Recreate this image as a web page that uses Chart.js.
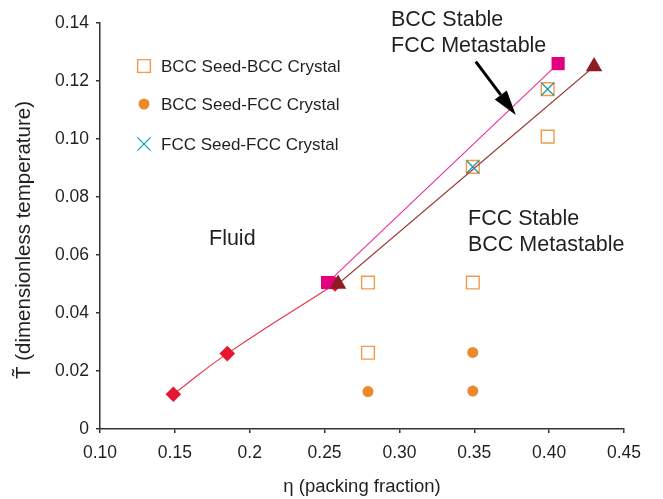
<!DOCTYPE html>
<html lang="en">
<head>
<meta charset="UTF-8" />
<title>Phase diagram</title>
<script src="https://cdn.jsdelivr.net/npm/chart.js"></script>
<style>
  html, body { margin: 0; padding: 0; background: #fff; }
  #chart { display: block; }
</style>
</head>
<body>
<canvas id="chart" width="663" height="499"></canvas>
<script>
  // tick values and labels
  var xTickVals = [0.10, 0.15, 0.20, 0.25, 0.30, 0.35, 0.40, 0.45];
  var xTickLabels = ["0.10", "0.15", "0.2", "0.25", "0.30", "0.35", "0.40", "0.45"];
  var yTickVals = [0, 0.02, 0.04, 0.06, 0.08, 0.10, 0.12, 0.14];
  var yTickLabels = ["0", "0.02", "0.04", "0.06", "0.08", "0.10", "0.12", "0.14"];

  // fluid boundary (red diamonds)
  var fluidEta = [0.149, 0.185, 0.257];
  var fluidT = [0.012, 0.026, 0.050];

  // BCC melting line (magenta squares)
  var bccLineEta = [0.252, 0.406];
  var bccLineT = [0.0505, 0.126];

  // FCC melting line (dark red triangles)
  var fccLineEta = [0.259, 0.430];
  var fccLineT = [0.050, 0.125];

  // simulations
  var bccBccEta = [0.279, 0.279, 0.349, 0.349, 0.399, 0.399];
  var bccBccT = [0.0505, 0.0263, 0.0505, 0.0904, 0.1008, 0.1172];
  var bccFccEta = [0.279, 0.349, 0.349];
  var bccFccT = [0.0129, 0.0131, 0.0264];
  var fccFccEta = [0.349, 0.399];
  var fccFccT = [0.0904, 0.1172];

  var legendLabels = ["BCC Seed-BCC Crystal", "BCC Seed-FCC Crystal", "FCC Seed-FCC Crystal"];

  var FONT = "'Liberation Sans', Arial, Helvetica, sans-serif";
  var TXT = "#231f20";

  function pts(xs, ys) {
    var out = [];
    for (var i = 0; i < xs.length; i++) out.push({ x: xs[i], y: ys[i] });
    return out;
  }

  var cX = "#1f9aa3", cOpen = "#f29a4e", cDot = "#ea8a2c";
  var cMag = "#e2007f", cTri = "#8a1c22", cRed = "#e3172f";

  var styles = [
    { pointStyle: "crossRot", pointRadius: 9, borderColor: cX, backgroundColor: cX, pointBorderWidth: 1.3 },
    { pointStyle: "circle", pointRadius: 5.5, borderColor: cDot, backgroundColor: cDot, pointBorderWidth: 0 },
    { pointStyle: "rect", pointRadius: 9, borderColor: cOpen, backgroundColor: "rgba(0,0,0,0)", pointBorderWidth: 1.4 }
  ];

  // annotations, placed in data units
  var arrowFrom = { x: 0.351, y: 0.1267 };
  var arrowTo = { x: 0.3777, y: 0.1083 };

  var overlay = {
    id: "overlay",
    afterDraw: function (chart) {
      var ctx = chart.ctx;
      var xs = chart.scales.x, ys = chart.scales.y;
      ctx.save();

      // arrow
      var x1 = xs.getPixelForValue(arrowFrom.x), y1 = ys.getPixelForValue(arrowFrom.y);
      var x2 = xs.getPixelForValue(arrowTo.x), y2 = ys.getPixelForValue(arrowTo.y);
      var ang = Math.atan2(y2 - y1, x2 - x1);
      var hl = 25, hw = 7.5;
      var bx = x2 - hl * Math.cos(ang), by = y2 - hl * Math.sin(ang);
      ctx.strokeStyle = "#000";
      ctx.fillStyle = "#000";
      ctx.lineWidth = 3;
      ctx.beginPath();
      ctx.moveTo(x1, y1);
      ctx.lineTo(bx, by);
      ctx.stroke();
      ctx.beginPath();
      ctx.moveTo(x2, y2);
      ctx.lineTo(bx + hw * Math.sin(ang), by - hw * Math.cos(ang));
      ctx.lineTo(bx - hw * Math.sin(ang), by + hw * Math.cos(ang));
      ctx.closePath();
      ctx.fill();

      // region labels
      ctx.fillStyle = TXT;
      ctx.textAlign = "left";
      ctx.textBaseline = "alphabetic";
      ctx.font = "21.5px " + FONT;
      ctx.fillText("BCC Stable", 391, 26);
      ctx.fillText("FCC Metastable", 391, 52);
      ctx.fillText("FCC Stable", 468, 225);
      ctx.fillText("BCC Metastable", 468, 251);
      ctx.fillText("Fluid", 209, 245);

      // legend
      var rows = [66, 104, 144];
      var order = [2, 1, 0];
      ctx.font = "17px " + FONT;
      ctx.textBaseline = "middle";
      for (var i = 0; i < 3; i++) {
        var s = styles[order[i]];
        ctx.strokeStyle = s.borderColor;
        ctx.fillStyle = s.backgroundColor;
        ctx.lineWidth = s.pointBorderWidth;
        Chart.helpers.drawPoint(ctx, { pointStyle: s.pointStyle, radius: s.pointRadius, borderWidth: s.pointBorderWidth, rotation: 0 }, 144, rows[i]);
        ctx.fillStyle = TXT;
        ctx.fillText(legendLabels[i], 161, rows[i] + 1);
      }

      // axis titles
      ctx.font = "18.5px " + FONT;
      ctx.textAlign = "center";
      ctx.textBaseline = "middle";
      ctx.fillText("\u03B7 (packing fraction)", (chart.chartArea.left + chart.chartArea.right) / 2, 487);
      ctx.font = "20.5px " + FONT;
      ctx.translate(24, 240);
      ctx.rotate(-Math.PI / 2);
      ctx.fillText("T\u0303 (dimensionless temperature)", 0, 0);
      ctx.restore();
    }
  };

  new Chart(document.getElementById("chart"), {
    type: "scatter",
    data: {
      datasets: [
        Object.assign({ label: legendLabels[2], data: pts(fccFccEta, fccFccT) }, styles[0]),
        {
          label: "FCC line", data: pts(fccLineEta, fccLineT), showLine: true,
          borderColor: "#9b3b36", borderWidth: 1.1, backgroundColor: cTri,
          pointStyle: "triangle", pointRadius: 9.5, pointBorderWidth: 0, pointBackgroundColor: cTri
        },
        {
          label: "BCC line", data: pts(bccLineEta, bccLineT), showLine: true,
          borderColor: "#ee2a9a", borderWidth: 1.1, backgroundColor: cMag,
          pointStyle: "rect", pointRadius: 9.3, pointBorderWidth: 0, pointBackgroundColor: cMag
        },
        {
          label: "Fluid", data: pts(fluidEta, fluidT), showLine: true, tension: 0.5,
          borderColor: "#e8324a", borderWidth: 1.1, backgroundColor: cRed,
          pointStyle: "rectRot", pointRadius: 7.8, pointBorderWidth: 0, pointBackgroundColor: cRed
        },
        Object.assign({ label: legendLabels[0], data: pts(bccBccEta, bccBccT) }, styles[2]),
        Object.assign({ label: legendLabels[1], data: pts(bccFccEta, bccFccT) }, styles[1])
      ]
    },
    options: {
      responsive: false,
      animation: false,
      layout: { padding: { top: 23, right: 39, left: 0, bottom: 0 } },
      plugins: { legend: { display: false }, tooltip: { enabled: false } },
      elements: { point: { hoverRadius: 0 } },
      scales: {
        x: {
          type: "linear",
          min: 0.10,
          max: 0.45,
          afterFit: function (s) { s.height = 70; },
          afterBuildTicks: function (s) { s.ticks = xTickVals.map(function (v) { return { value: v }; }); },
          border: { display: true, color: "#333", width: 1.5 },
          grid: { drawOnChartArea: false, drawTicks: true, tickLength: 4, color: "#333", lineWidth: 1.5 },
          ticks: {
            padding: 10, color: TXT, maxRotation: 0, autoSkip: false,
            font: { family: FONT, size: 17.5 },
            callback: function (v, i) { return xTickLabels[i]; }
          }
        },
        y: {
          type: "linear",
          min: 0,
          max: 0.14,
          afterFit: function (s) { s.width = 100; },
          afterBuildTicks: function (s) { s.ticks = yTickVals.map(function (v) { return { value: v }; }); },
          border: { display: true, color: "#333", width: 1.5 },
          grid: { drawOnChartArea: false, drawTicks: true, tickLength: 4, color: "#333", lineWidth: 1.5 },
          ticks: {
            padding: 7, color: TXT, autoSkip: false,
            font: { family: FONT, size: 17.5 },
            callback: function (v, i) { return yTickLabels[i]; }
          }
        }
      }
    },
    plugins: [overlay]
  });
</script>
</body>
</html>
